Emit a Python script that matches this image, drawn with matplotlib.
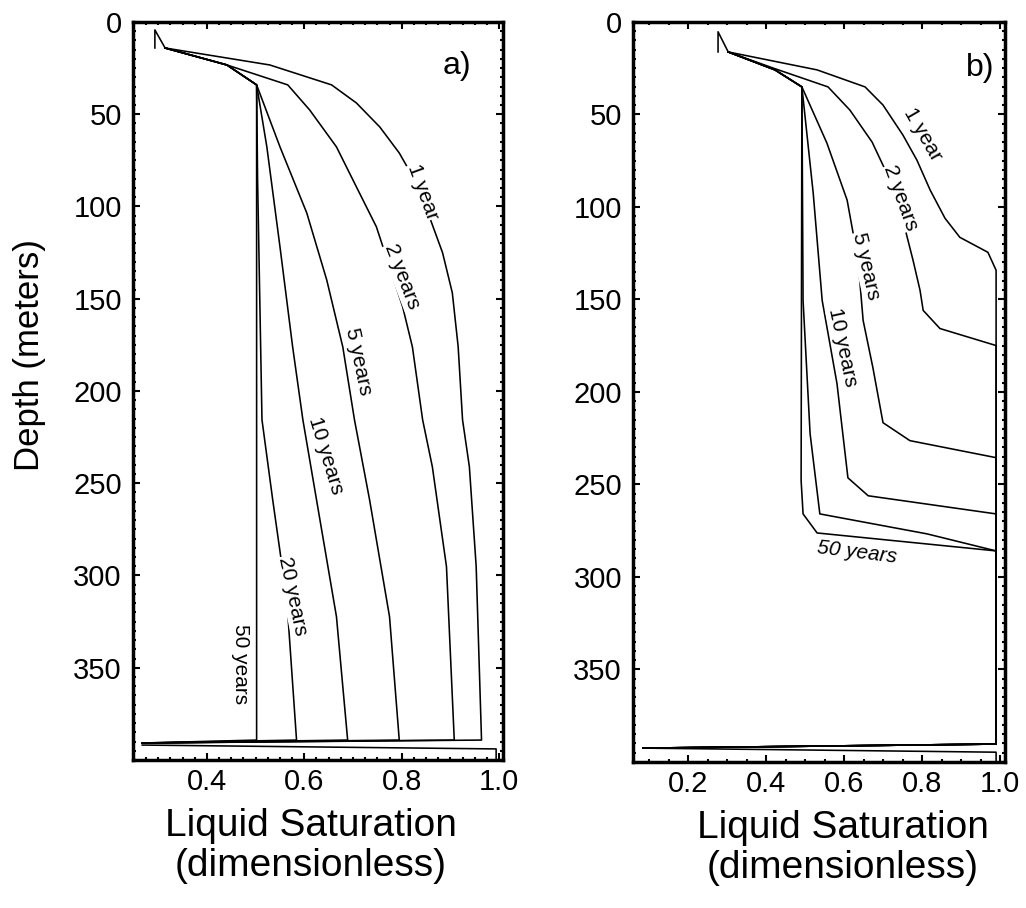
"""
Liquid saturation profiles with depth, two panels.
"""

import matplotlib.pyplot as plt
from matplotlib.ticker import MultipleLocator

plt.rcParams["font.family"] = ["Liberation Sans", "DejaVu Sans"]

# ---- panel a) ----
top_a_x = [0.293, 0.293, 0.314]
top_a_d = [14.1, 4.3, 14.1]

a_1yr_x = [0.314, 0.529, 0.656, 0.707, 0.755, 0.795, 0.830, 0.857, 0.884, 0.904, 0.916, 0.925, 0.939, 0.953, 0.964, 0.267]
a_1yr_d = [14.1, 23.3, 34.1, 43.9, 56.9, 71.0, 87.2, 105.6, 125.1, 146.8, 176.0, 215.6, 241.0, 295.0, 389.2, 390.8]
a_2yr_x = [0.314, 0.441, 0.566, 0.611, 0.666, 0.707, 0.748, 0.775, 0.802, 0.822, 0.843, 0.863, 0.892, 0.908, 0.267]
a_2yr_d = [14.1, 23.3, 34.1, 47.7, 67.7, 89.4, 111.0, 132.7, 154.4, 176.1, 215.6, 241.1, 295.2, 389.2, 390.8]
a_5yr_x = [0.314, 0.441, 0.502, 0.550, 0.605, 0.646, 0.679, 0.703, 0.734, 0.775, 0.795, 0.267]
a_5yr_d = [14.1, 23.3, 34.1, 67.7, 103.5, 139.8, 176.1, 215.6, 258.9, 322.3, 389.2, 390.8]
a_10yr_x = [0.314, 0.441, 0.502, 0.523, 0.550, 0.576, 0.597, 0.625, 0.666, 0.689, 0.267]
a_10yr_d = [14.1, 23.3, 34.1, 67.7, 121.9, 176.1, 215.6, 258.9, 322.3, 389.2, 390.8]
a_20yr_x = [0.314, 0.441, 0.502, 0.504, 0.509, 0.513, 0.535, 0.564, 0.584, 0.267]
a_20yr_d = [14.1, 23.3, 34.1, 85.6, 157.6, 215.6, 258.9, 313.1, 389.2, 390.8]
a_50yr_x = [0.314, 0.441, 0.502, 0.502, 0.267]
a_50yr_d = [14.1, 23.3, 34.1, 389.2, 390.8]
bottom_a_x = [0.267, 0.994, 0.994]
bottom_a_d = [391.9, 394.0, 400.0]

# label text, x, depth, rotation
labels_a = [
    ("1 year", 0.843, 92, -70),
    ("2 years", 0.800, 138, -69),
    ("5 years", 0.711, 184, -78),
    ("10 years", 0.644, 235, -73),
    ("20 years", 0.576, 311, -78),
    ("50 years", 0.468, 348, -90),
]

# ---- panel b) ----
top_b_x = [0.277, 0.277, 0.303]
top_b_d = [16.3, 5.4, 16.3]

b_1yr_x = [0.303, 0.531, 0.654, 0.700, 0.751, 0.787, 0.821, 0.859, 0.897, 0.969, 0.990, 0.990, 0.085]
b_1yr_d = [16.3, 26.0, 35.2, 45.0, 61.2, 74.8, 91.0, 106.2, 116.5, 124.6, 134.3, 390.4, 392.6]
b_2yr_x = [0.303, 0.418, 0.559, 0.615, 0.672, 0.718, 0.751, 0.777, 0.795, 0.803, 0.846, 0.990, 0.990, 0.085]
b_2yr_d = [16.3, 25.0, 35.2, 47.7, 65.0, 85.6, 107.3, 128.9, 145.2, 156.0, 165.8, 175.0, 390.4, 392.6]
b_5yr_x = [0.303, 0.423, 0.492, 0.556, 0.608, 0.636, 0.649, 0.674, 0.700, 0.769, 0.990, 0.990, 0.085]
b_5yr_d = [16.3, 26.0, 35.2, 65.5, 96.4, 128.9, 161.4, 186.9, 216.7, 226.4, 235.6, 390.4, 392.6]
b_10yr_x = [0.303, 0.423, 0.492, 0.521, 0.544, 0.582, 0.610, 0.662, 0.990, 0.990, 0.085]
b_10yr_d = [16.3, 26.0, 35.2, 92.6, 150.6, 195.6, 246.5, 256.2, 266.0, 390.4, 392.6]
b_20yr_x = [0.303, 0.423, 0.492, 0.495, 0.513, 0.538, 0.813, 0.990, 0.990, 0.085]
b_20yr_d = [16.3, 26.0, 35.2, 150.6, 222.6, 266.0, 276.8, 286.0, 390.4, 392.6]
b_50yr_x = [0.303, 0.423, 0.492, 0.490, 0.495, 0.531, 0.990, 0.990, 0.085]
b_50yr_d = [16.3, 26.0, 35.2, 248.0, 266.0, 276.3, 286.0, 390.4, 392.6]
bottom_b_x = [0.085, 0.990, 0.990]
bottom_b_d = [392.6, 394.8, 400.0]

labels_b = [
    ("1 year", 0.802, 61, -60),
    ("2 years", 0.746, 95, -70),
    ("5 years", 0.656, 132, -77),
    ("10 years", 0.597, 176, -78),
]

LW = 1.15
BOX = dict(facecolor="white", edgecolor="none", pad=0.3)


def style_axes(ax, xlim, xticks, xminor):
    ax.set_xlim(*xlim)
    ax.set_ylim(400, 0)
    ax.set_xticks(xticks)
    ax.set_xticklabels([f"{t:.1f}" for t in xticks])
    ax.set_yticks(range(0, 400, 50))
    ax.xaxis.set_minor_locator(MultipleLocator(xminor))
    ax.yaxis.set_minor_locator(MultipleLocator(5))
    ax.tick_params(which="both", direction="in", top=True, right=True, width=1.5, labelsize=21)
    ax.tick_params(which="major", length=5)
    ax.tick_params(which="minor", length=2.5)
    ax.tick_params(axis="x", pad=6)
    ax.tick_params(axis="y", pad=8)
    for s in ax.spines.values():
        s.set_linewidth(2.5)


fig = plt.figure(figsize=(10.26, 9.08), dpi=100)
ax1 = fig.add_axes([0.1296, 0.163, 0.3606, 0.8128])
ax2 = fig.add_axes([0.6170, 0.161, 0.3626, 0.8150])

# panel a
ax1.plot(top_a_x, top_a_d, "k-", lw=LW)
for xs, ds in [(a_1yr_x, a_1yr_d), (a_2yr_x, a_2yr_d), (a_5yr_x, a_5yr_d),
               (a_10yr_x, a_10yr_d), (a_20yr_x, a_20yr_d), (a_50yr_x, a_50yr_d)]:
    ax1.plot(xs, ds, "k-", lw=LW)
ax1.plot(bottom_a_x, bottom_a_d, "k-", lw=LW)
for txt, x, d, rot in labels_a:
    ax1.text(x, d, txt, rotation=rot, ha="center", va="center",
             rotation_mode="anchor", fontsize=15, bbox=BOX)
ax1.text(0.876, 0.94, "a)", transform=ax1.transAxes, ha="center", va="center", fontsize=23)
style_axes(ax1, (0.248, 1.008), [0.4, 0.6, 0.8, 1.0], 0.025)

# panel b
ax2.plot(top_b_x, top_b_d, "k-", lw=LW)
for xs, ds in [(b_1yr_x, b_1yr_d), (b_2yr_x, b_2yr_d), (b_5yr_x, b_5yr_d),
               (b_10yr_x, b_10yr_d), (b_20yr_x, b_20yr_d), (b_50yr_x, b_50yr_d)]:
    ax2.plot(xs, ds, "k-", lw=LW)
ax2.plot(bottom_b_x, bottom_b_d, "k-", lw=LW)
for txt, x, d, rot in labels_b:
    ax2.text(x, d, txt, rotation=rot, ha="center", va="center",
             rotation_mode="anchor", fontsize=15, bbox=BOX)
ax2.text(0.633, 287, "50 years", rotation=-7, ha="center", va="center",
         rotation_mode="anchor", fontsize=15, style="italic")
ax2.text(0.933, 0.938, "b)", transform=ax2.transAxes, ha="center", va="center", fontsize=23)
style_axes(ax2, (0.059, 1.013), [0.2, 0.4, 0.6, 0.8, 1.0], 0.05)

# axis titles
fig.text(30 / 1026, 1 - 355 / 908, "Depth (meters)", rotation=90,
         ha="center", va="center", fontsize=25)
fig.text(311 / 1026, 1 - 846 / 908, "Liquid Saturation\n(dimensionless)",
         ha="center", va="center", multialignment="center", fontsize=28, linespacing=1.15)
fig.text(843 / 1026, 1 - 848 / 908, "Liquid Saturation\n(dimensionless)",
         ha="center", va="center", multialignment="center", fontsize=28, linespacing=1.15)

fig.savefig("out.png", dpi=100)
